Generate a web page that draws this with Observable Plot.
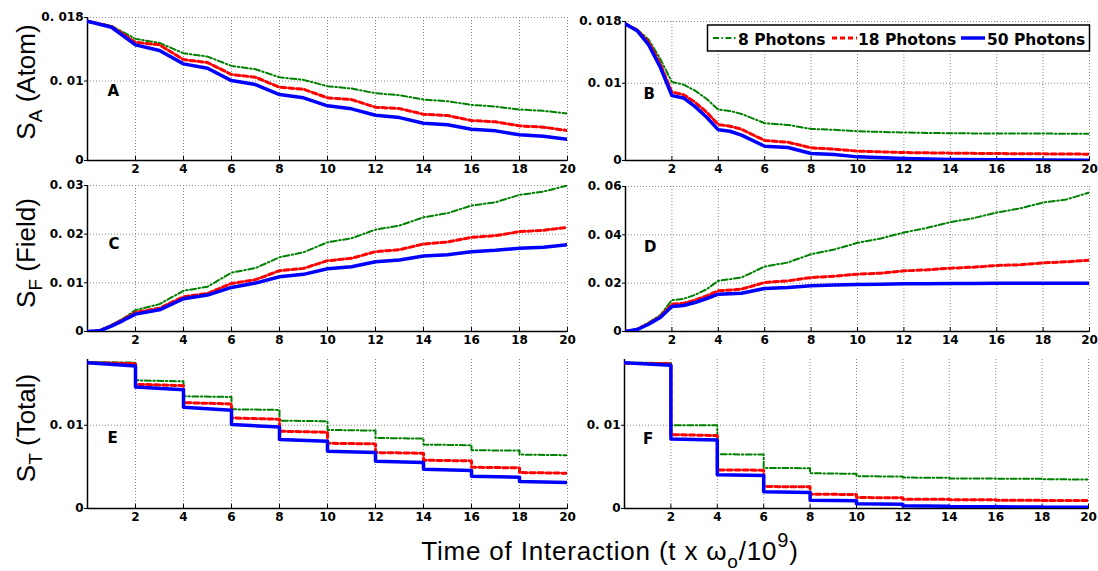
<!DOCTYPE html>
<html><head><meta charset="utf-8">
<script src="https://cdn.jsdelivr.net/npm/d3@7"></script>
<script src="https://cdn.jsdelivr.net/npm/@observablehq/plot@0.6"></script>
<style>
html,body{margin:0;padding:0;background:#fff;}
#chart{position:relative;width:1098px;height:571px;overflow:hidden;background:#fff;}
</style></head><body><div id="chart"></div>
<script>
// ---------- data ----------
const seriesNames = ["8 Photons", "18 Photons", "50 Photons"];
const xTicks = [2, 4, 6, 8, 10, 12, 14, 16, 18, 20];
const xTickLabels = ["2", "4", "6", "8", "10", "12", "14", "16", "18", "20"];

// Panel A: S_A (Atom), left column
const xA = [0,1,2,3,4,5,6,7,8,9,10,11,12,13,14,15,16,17,18,19,20];
const greenA = [0.01752,0.01694,0.01531,0.0148,0.0135,0.01308,0.01191,0.01148,0.01048,0.01015,0.00935,0.00906,0.00847,0.00821,0.00767,0.00746,0.007,0.00679,0.00642,0.00625,0.00591];
const redA = [0.01752,0.01686,0.01488,0.01455,0.0127,0.01233,0.01082,0.01048,0.00922,0.00897,0.00789,0.00767,0.0067,0.00654,0.00582,0.00566,0.00503,0.00487,0.00436,0.00419,0.00377];
const blueA = [0.01752,0.01677,0.01455,0.01384,0.01216,0.01161,0.01006,0.00956,0.0083,0.00789,0.00688,0.0065,0.0057,0.0054,0.00469,0.00449,0.00394,0.00373,0.00323,0.00306,0.00268];

// Panel B: S_A (Atom), right column
const xB = [0,0.5,1,1.5,2,2.5,3,3.5,4,4.5,5,6,7,8,9,10,12,14,16,18,20];
const greenB = [0.01767,0.01698,0.01565,0.01315,0.01017,0.00983,0.00905,0.00797,0.00659,0.00642,0.00603,0.00483,0.00461,0.00409,0.00397,0.00379,0.00362,0.00353,0.00349,0.00349,0.00345];
const redB = [0.01767,0.0169,0.0153,0.0125,0.00884,0.00853,0.00754,0.00625,0.00466,0.00444,0.00405,0.00259,0.00237,0.00164,0.00147,0.00121,0.00103,0.00095,0.0009,0.00086,0.00082];
const blueB = [0.01767,0.01681,0.01496,0.01207,0.0084,0.0081,0.00698,0.0056,0.00397,0.00379,0.00328,0.00185,0.00168,0.0009,0.00078,0.00047,0.00026,0.00013,0.0001,0.00007,0.00004];

// Panel C: S_F (Field), left column
const xC = [0,0.5,1,1.5,2,3,4,5,6,7,8,9,10,11,12,13,14,15,16,17,18,19,20];
const greenC = [0,0.00015,0.00137,0.0027,0.00439,0.00563,0.00837,0.0092,0.01208,0.01304,0.01524,0.01627,0.01833,0.01915,0.02093,0.02176,0.02347,0.0243,0.02588,0.02656,0.02807,0.02876,0.0300];
const redC = [0,0.00014,0.00124,0.0025,0.00391,0.0048,0.00714,0.00782,0.00988,0.01064,0.01249,0.01297,0.01455,0.01503,0.0164,0.01682,0.01798,0.01839,0.01935,0.0197,0.02052,0.0208,0.02141];
const blueC = [0,0.00014,0.0011,0.0023,0.00357,0.00446,0.00673,0.00748,0.00906,0.00995,0.01126,0.01174,0.0129,0.01332,0.01434,0.01469,0.01551,0.01579,0.0164,0.01668,0.01709,0.0173,0.01785];

// Panel D: S_F (Field), right column
const xD = [0,0.5,1,1.5,2,2.5,3,3.5,4,5,6,7,8,9,10,11,12,13,14,15,16,17,18,19,20];
const greenD = [0,0.0009,0.00372,0.0068,0.01297,0.0135,0.01517,0.0175,0.02097,0.02234,0.0269,0.02855,0.032,0.03393,0.03669,0.03848,0.04097,0.0429,0.04524,0.0469,0.04924,0.0509,0.05338,0.05462,0.05752];
const redD = [0,0.0009,0.00331,0.0062,0.01131,0.01172,0.01297,0.01476,0.01683,0.01752,0.02028,0.02097,0.02234,0.0229,0.02372,0.02414,0.0251,0.02552,0.02621,0.02662,0.02731,0.02759,0.02841,0.02883,0.02952];
const blueD = [0,0.00083,0.003,0.0058,0.01034,0.01076,0.012,0.01366,0.01545,0.01586,0.01779,0.0182,0.0189,0.0192,0.01945,0.0196,0.01972,0.0198,0.01986,0.0199,0.02,0.02,0.02,0.02,0.02];

// Panels E/F: S_T (Total), step curves (segment start/end pairs)
const xStep = [0,2, 2,4, 4,6, 6,8, 8,10, 10,12, 12,14, 14,16, 16,18, 18,20];
const greenE = [0.0176,0.01752, 0.0154,0.01528, 0.01348,0.0134, 0.01192,0.01184, 0.01056,0.01048, 0.00944,0.00936, 0.00848,0.0084, 0.00768,0.0076, 0.007,0.00696, 0.00648,0.0064];
const redE = [0.01752,0.0174, 0.01492,0.01476, 0.01272,0.01256, 0.01088,0.01072, 0.00928,0.00916, 0.00784,0.00776, 0.00672,0.00664, 0.0058,0.00572, 0.00496,0.00488, 0.00432,0.00424];
const blueE = [0.01752,0.01712, 0.0146,0.01428, 0.01216,0.0118, 0.01008,0.0098, 0.00828,0.00808, 0.00688,0.00672, 0.00568,0.00552, 0.00472,0.00456, 0.00388,0.00376, 0.00324,0.00312];
const greenF = [0.01752,0.01748, 0.01,0.01, 0.00652,0.00648, 0.00488,0.00484, 0.00424,0.00416, 0.00388,0.00384, 0.00372,0.00368, 0.0036,0.0036, 0.00356,0.00356, 0.00352,0.00348];
const redF = [0.01744,0.0174, 0.00888,0.00876, 0.00464,0.0046, 0.00264,0.0026, 0.00172,0.00168, 0.00132,0.00128, 0.00112,0.00112, 0.00104,0.00104, 0.001,0.001, 0.00096,0.00096];
const blueF = [0.01752,0.0172, 0.00836,0.00824, 0.00404,0.00396, 0.002,0.00192, 0.001,0.00092, 0.00056,0.00052, 0.00032,0.00028, 0.00024,0.0002, 0.0002,0.00018, 0.00016,0.00016];

// y ticks and their labels
const yTicksAtom = [0, 0.01, 0.018];
const yLabelsAtom = ["0", "0. 01", "0. 018"];
const yTicksFieldC = [0, 0.01, 0.02, 0.03];
const yLabelsFieldC = ["0", "0. 01", "0. 02", "0. 03"];
const yTicksFieldD = [0, 0.02, 0.04, 0.06];
const yLabelsFieldD = ["0", "0. 02", "0. 04", "0. 06"];
const yTicksTotal = [0, 0.01];
const yLabelsTotal = ["0", "0. 01"];

const panelLetters = ["A", "B", "C", "D", "E", "F"];
const rowTitles = [["S", "A", " (Atom)"], ["S", "F", " (Field)"], ["S", "T", " (Total)"]];

// ---------- styles ----------
const styles = [
  {stroke: "#008000", strokeWidth: 2, strokeDasharray: "6,2.5,1.5,2.5"},
  {stroke: "#ff0000", strokeWidth: 3, strokeDasharray: "5,3"},
  {stroke: "#0000ff", strokeWidth: 3.5, strokeDasharray: null}
];
const gridStyle = {stroke: "#8a8a8a", strokeOpacity: 1, strokeWidth: 1, strokeDasharray: "1,2"};

const chart = document.getElementById("chart");
const xLabelMap = new Map(xTicks.map((t, i) => [t, xTickLabels[i]]));
const tickShape = {draw(context, l) { context.moveTo(0, 0); context.lineTo(0, -l); }};

function rows(xs, ys) { return xs.map((x, i) => ({x, y: ys[i]})); }

function panel(cfg) {
  const ml = 60, mr = 15, mt = 10, mb = 25;
  const w = cfg.R - cfg.L + ml + mr, h = cfg.B - cfg.T + mt + mb;
  const labelMap = new Map(cfg.yTicks.map((t, i) => [t, cfg.yLabels[i]]));
  const lineMarks = cfg.series.map((s, i) => Plot.line(rows(s.xs, s.ys), {
    x: "x", y: "y", clip: true,
    stroke: styles[i].stroke, strokeWidth: styles[i].strokeWidth,
    strokeDasharray: styles[i].strokeDasharray, strokeLinejoin: "round"
  }));
  const svg = Plot.plot({
    width: w, height: h,
    marginLeft: ml, marginRight: mr, marginTop: mt, marginBottom: mb,
    style: {fontFamily: "'DejaVu Sans', sans-serif", fontSize: "12px", fontWeight: "bold", background: "transparent", overflow: "visible", color: "#000"},
    x: {domain: [0, 20]},
    y: {domain: [0, cfg.ymax]},
    marks: [
      Plot.gridX({ticks: xTicks, ...gridStyle}),
      Plot.gridY({ticks: cfg.yTicks.filter(t => t > 0), ...gridStyle}),
      Plot.vector(xTicks, {x: d => d, frameAnchor: "bottom", length: 4, anchor: "start", shape: tickShape, stroke: "#000", strokeWidth: 1}),
      Plot.axisX({ticks: xTicks, tickSize: 0, tickPadding: 4, tickFormat: d => xLabelMap.get(d), label: null, fontWeight: "bold"}),
      Plot.axisY({ticks: cfg.yTicks, tickSize: 3, tickPadding: 1, tickFormat: d => labelMap.get(d), label: null, fontWeight: "bold"}),
      Plot.ruleX([0], {stroke: "#000", strokeWidth: 1.5}),
      Plot.ruleY([0], {stroke: "#000", strokeWidth: 1.5}),
      ...lineMarks,
      Plot.text([cfg.letter], {frameAnchor: "top-left", dx: cfg.ldx, dy: cfg.ldy, text: d => d, fontSize: 15, fontWeight: "bold", fill: "#000"})
    ]
  });
  svg.style.position = "absolute";
  svg.style.left = (cfg.L - ml) + "px";
  svg.style.top = (cfg.T - mt) + "px";
  chart.appendChild(svg);
}

panel({letter: panelLetters[0], L: 87, R: 567, T: 17, B: 160, ymax: 0.018, yTicks: yTicksAtom, yLabels: yLabelsAtom, ldx: 20, ldy: 68,
  series: [{xs: xA, ys: greenA}, {xs: xA, ys: redA}, {xs: xA, ys: blueA}]});
panel({letter: panelLetters[1], L: 625, R: 1089, T: 21, B: 160, ymax: 0.018, yTicks: yTicksAtom, yLabels: yLabelsAtom, ldx: 18, ldy: 67,
  series: [{xs: xB, ys: greenB}, {xs: xB, ys: redB}, {xs: xB, ys: blueB}]});
panel({letter: panelLetters[2], L: 87, R: 567, T: 185, B: 331, ymax: 0.03, yTicks: yTicksFieldC, yLabels: yLabelsFieldC, ldx: 21, ldy: 53,
  series: [{xs: xC, ys: greenC}, {xs: xC, ys: redC}, {xs: xC, ys: blueC}]});
panel({letter: panelLetters[3], L: 625, R: 1089, T: 186, B: 331, ymax: 0.06, yTicks: yTicksFieldD, yLabels: yLabelsFieldD, ldx: 18.5, ldy: 55,
  series: [{xs: xD, ys: greenD}, {xs: xD, ys: redD}, {xs: xD, ys: blueD}]});
panel({letter: panelLetters[4], L: 87, R: 567, T: 359, B: 508, ymax: 0.0179, yTicks: yTicksTotal, yLabels: yLabelsTotal, ldx: 20, ldy: 72.5,
  series: [{xs: xStep, ys: greenE}, {xs: xStep, ys: redE}, {xs: xStep, ys: blueE}]});
panel({letter: panelLetters[5], L: 624, R: 1088, T: 359, B: 508, ymax: 0.0179, yTicks: yTicksTotal, yLabels: yLabelsTotal, ldx: 18.5, ldy: 74,
  series: [{xs: xStep, ys: greenF}, {xs: xStep, ys: redF}, {xs: xStep, ys: blueF}]});

// ---------- overlay: titles + legend ----------
const ov = d3.create("svg").attr("width", 1098).attr("height", 571)
  .style("position", "absolute").style("left", "0px").style("top", "0px").style("pointer-events", "none");

const titleFont = "'Liberation Sans', Arial, sans-serif";
const rowCenters = [82, 253, 428];
rowTitles.forEach((t, i) => {
  const tx = ov.append("text")
    .attr("transform", `translate(35,${rowCenters[i]}) rotate(-90)`)
    .attr("text-anchor", "middle")
    .style("font-family", titleFont).style("font-size", "26px").attr("fill", "#000");
  tx.append("tspan").text(t[0]);
  tx.append("tspan").attr("dy", 7).style("font-size", "19px").text(t[1]);
  tx.append("tspan").attr("dy", -7).text(t[2]);
});

const xt = ov.append("text").attr("x", 610).attr("y", 560).attr("text-anchor", "middle")
  .style("font-family", titleFont).style("font-size", "26px").style("letter-spacing", "0.8px").attr("fill", "#000");
xt.append("tspan").text("Time of Interaction (t x \u03c9");
xt.append("tspan").attr("dy", 8).style("font-size", "19px").text("o");
xt.append("tspan").attr("dy", -8).text("/10");
xt.append("tspan").attr("dy", -13).style("font-size", "20px").text("9");
xt.append("tspan").attr("dy", 13).text(")");

// legend
const lg = ov.append("g");
lg.append("rect").attr("x", 707.5).attr("y", 25).attr("width", 382).attr("height", 26)
  .attr("fill", "#fff").attr("stroke", "#000").attr("stroke-width", 1.5);
const legendItems = [
  {x1: 713, x2: 737, tx: 738},
  {x1: 832, x2: 857, tx: 858},
  {x1: 961, x2: 985, tx: 987}
];
legendItems.forEach((it, i) => {
  lg.append("line").attr("x1", it.x1).attr("x2", it.x2).attr("y1", 38).attr("y2", 38)
    .attr("stroke", styles[i].stroke).attr("stroke-width", styles[i].strokeWidth)
    .attr("stroke-dasharray", styles[i].strokeDasharray);
  lg.append("text").attr("x", it.tx).attr("y", 44.5)
    .style("font-family", "'DejaVu Sans', sans-serif").style("font-weight", "bold").style("font-size", "15.5px")
    .attr("fill", "#000").text(seriesNames[i]);
});

chart.appendChild(ov.node());
</script></body></html>
